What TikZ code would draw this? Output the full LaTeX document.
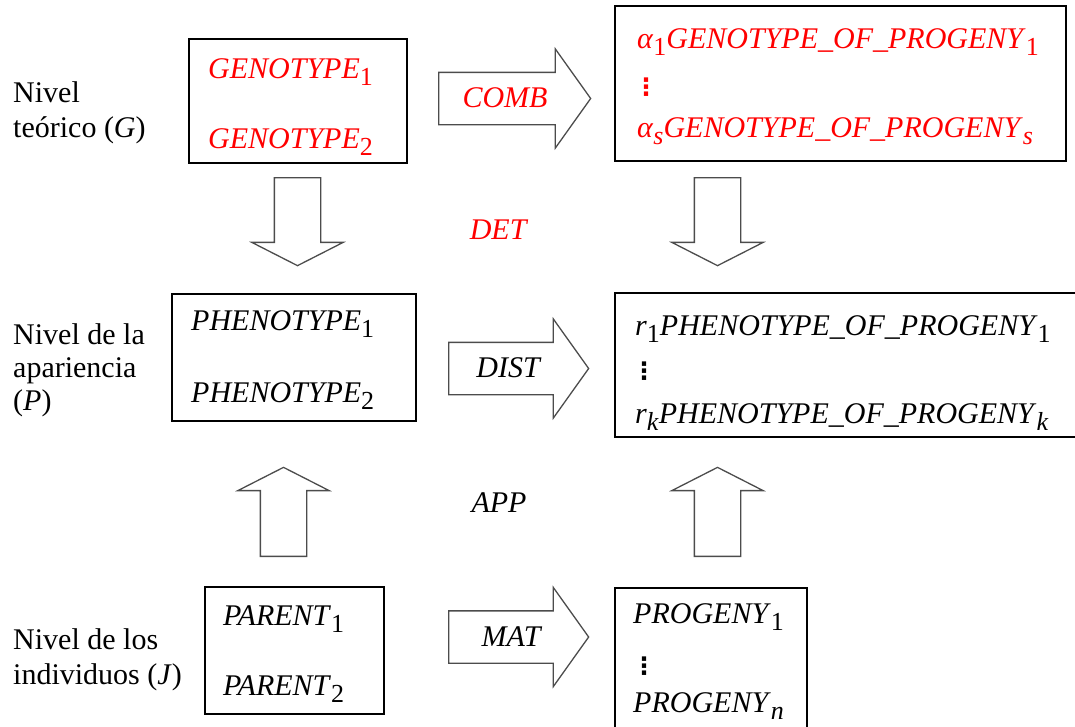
\documentclass[tikz,border=0pt]{standalone}
\usepackage{fontspec}
\setmainfont{Liberation Serif}
\newfontfamily\dejavu{DejaVu Sans}
\usetikzlibrary{shapes.arrows}
\newcommand{\lo}[1]{\raisebox{-7pt}{\fontsize{26}{26}\selectfont #1}}
\newcommand{\vd}{{\dejavu\bfseries\fontsize{24}{24}\selectfont ⋮}}

\begin{document}
\begin{tikzpicture}[x=1pt, y=-1pt,
  every node/.style={font=\fontsize{30}{34}\selectfont, inner sep=0pt},
  box/.style={draw, rectangle, line width=1.2pt},
  txt/.style={anchor=base west},
  gen/.style={text=red},
  harrow/.style={draw=black!70, line width=1.3pt, single arrow, single arrow head extend=23.5pt, single arrow tip angle=109, minimum height=140pt, inner ysep=25.5pt, inner xsep=0pt, anchor=tail},
  varrow/.style={draw=black!70, line width=1.3pt, single arrow, single arrow head extend=22.5pt, single arrow tip angle=126, minimum height=89pt, inner xsep=22.5pt, inner ysep=0pt, anchor=tail}]
\clip (0,0) rectangle (1075,726);

% Niveles
\node[txt] (lg1) at (13,102) {Nivel};
\node[txt] (lg2) at (13,137) {teórico (\textit{G})};
\node[txt] (lp1) at (13,344) {Nivel de la};
\node[txt] (lp2) at (13,377) {apariencia};
\node[txt] (lp3) at (13,410) {(\textit{P})};
\node[txt] (lj1) at (13,649) {Nivel de los};
\node[txt] (lj2) at (13,684) {individuos (\textit{J})};

% Cajas
\node[box, minimum width=218pt, minimum height=124pt] (gen) at (298,101) {};
\node[box, minimum width=451pt, minimum height=155pt] (genprog) at (840.5,83.5) {};
\node[box, minimum width=244pt, minimum height=127pt] (phen) at (294,357.5) {};
\node[box, minimum width=470pt, minimum height=144pt] (phenprog) at (850,365) {};
\node[box, minimum width=179pt, minimum height=127pt] (par) at (294.5,650.5) {};
\node[box, minimum width=192pt, minimum height=152pt] (prog) at (711,664) {};

% Textos de las cajas
\node[txt, gen] (g1) at (208,78) {\textit{GENOTYPE}\lo{1}};
\node[txt, gen] (g2) at (208,148) {\textit{GENOTYPE}\lo{2}};
\node[txt, gen] (gp1) at (637,48) {\textit{α}\lo{1}\textit{GENOTYPE\_OF\_PROGENY}\lo{1}};
\node[anchor=west, gen] (gpd) at (634,87) {\vd};
\node[txt, gen] (gps) at (637,137) {\textit{α}\lo{\textit{s}}\textit{GENOTYPE\_OF\_PROGENY}\lo{\textit{s}}};
\node[txt] (p1) at (191,330) {\textit{PHENOTYPE}\lo{1}};
\node[txt] (p2) at (191,402) {\textit{PHENOTYPE}\lo{2}};
\node[txt] (pp1) at (635,335) {\textit{r}\lo{1}\textit{PHENOTYPE\_OF\_PROGENY}\lo{1}};
\node[anchor=west] (ppd) at (632,371) {\vd};
\node[txt] (ppk) at (635,423) {\textit{r}\lo{\textit{k}}\textit{PHENOTYPE\_OF\_PROGENY}\lo{\textit{k}}};
\node[txt] (pa1) at (223,625) {\textit{PARENT}\lo{1}};
\node[txt] (pa2) at (223,695) {\textit{PARENT}\lo{2}};
\node[txt] (pr1) at (633,623) {\textit{PROGENY}\lo{1}};
\node[anchor=west] (prd) at (632,666) {\vd};
\node[txt] (prn) at (633,712) {\textit{PROGENY}\lo{\textit{n}}};

% Flechas
\node[harrow, minimum height=152pt] (comb) at (438,98.5) {};
\node[harrow] (dist) at (448,368.5) {};
\node[harrow] (mat) at (448,637) {};
\node[varrow, shape border rotate=270, minimum height=88pt] (det) at (297.5,177) {};
\node[varrow, shape border rotate=270, minimum height=88pt] (det2) at (717.5,177) {};
\node[varrow, shape border rotate=90] (app) at (283.5,557) {};
\node[varrow, shape border rotate=90] (app2) at (717.5,557) {};

% Etiquetas
\node[anchor=base, gen] (lcomb) at (505,107) {\textit{COMB}};
\node[anchor=base] (ldist) at (509,377) {\textit{DIST}};
\node[anchor=base] (lmat) at (512,646) {\textit{MAT}};
\node[anchor=base, gen] (ldet) at (499,239) {\textit{DET}};
\node[anchor=base] (lapp) at (499,512) {\textit{APP}};
\end{tikzpicture}
\end{document}
